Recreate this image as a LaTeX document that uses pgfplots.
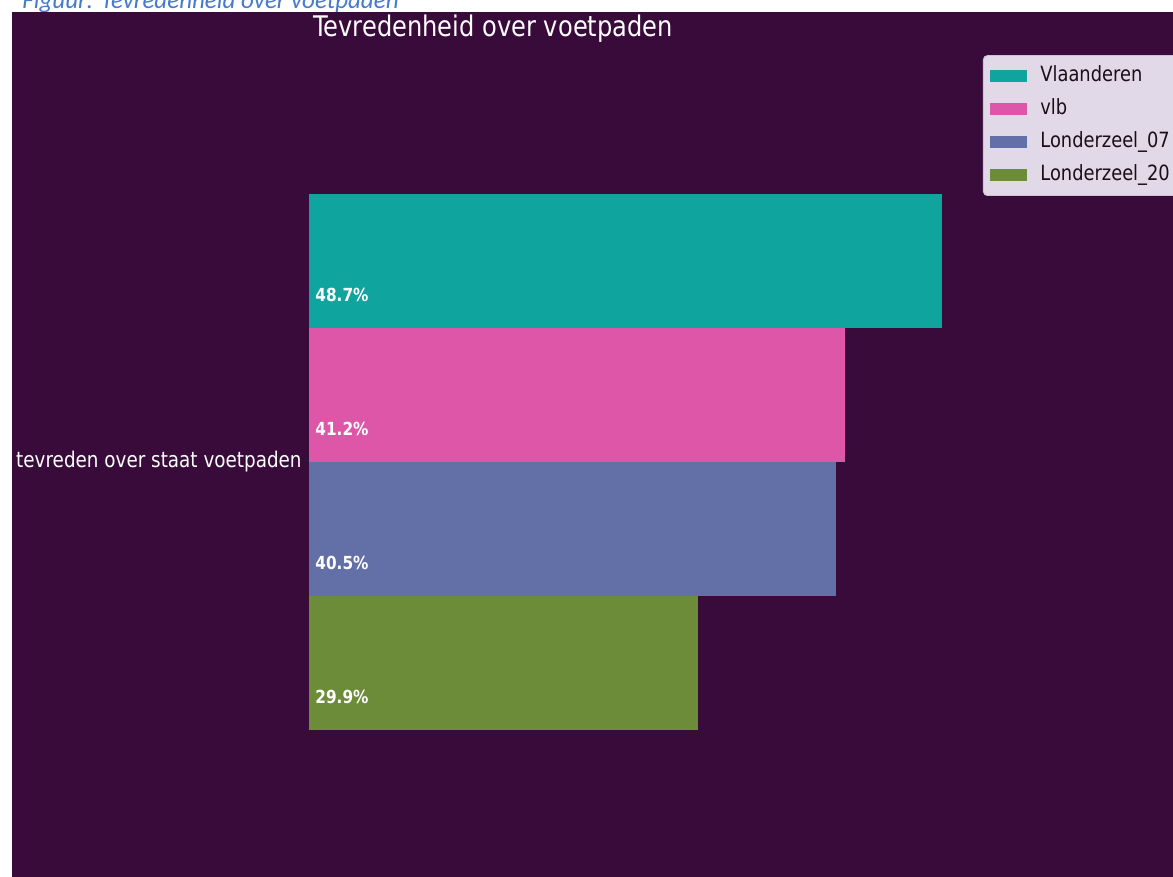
\documentclass[border=0pt]{standalone}
\usepackage{pgfplots}
\pgfplotsset{compat=1.18}
\usepackage{fontspec}
\setmainfont{DejaVu Sans}[FakeStretch=0.85]
\newfontfamily\capfont{Carlito}

\definecolor{bgpurple}{RGB}{56,11,58}
\definecolor{cteal}{RGB}{16,164,158}
\definecolor{cpink}{RGB}{222,86,168}
\definecolor{cslate}{RGB}{99,112,168}
\definecolor{cgreen}{RGB}{108,140,58}
\definecolor{legbg}{RGB}{226,217,232}
\definecolor{legedge}{RGB}{205,195,210}
\definecolor{legtext}{RGB}{25,15,25}
\definecolor{capblue}{RGB}{70,122,205}

\begin{document}
\begin{tikzpicture}
  % page = 1173 x 877 px, 1 px = 0.5pt
  \useasboundingbox (0,0) rectangle (586.5pt,438.5pt);
  \clip (0,0) rectangle (586.5pt,438.5pt);
  \fill[white] (0,0) rectangle (586.5pt,438.5pt);

  % caption of the document, mostly cut off
  \begin{scope}
    \clip (0,432.5pt) rectangle (586.5pt,438.5pt);
    \node[anchor=base west, inner sep=0pt, text=capblue,
          font=\capfont\itshape\fontsize{12.5}{14}\selectfont]
      at (11pt,434pt) {Figuur: Tevredenheid over voetpaden};
  \end{scope}

  \fill[bgpurple] (6pt,0) rectangle (586.5pt,432.5pt);

  \node[anchor=base, text=white, inner sep=0pt,
        font=\fontsize{14.2}{16}\selectfont]
    at (246.5pt,420pt) {Tevredenheid over voetpaden};

  \begin{axis}[
    at={(154.5pt,60.1pt)}, anchor=south west,
    scale only axis,
    width=332.5pt, height=294.8pt,
    xbar, bar width=0.2, bar shift=0pt,
    xmin=0, xmax=51.15,
    ymin=-0.44, ymax=0.44,
    enlargelimits=false,
    axis line style={draw=none},
    tick style={draw=none},
    major tick length=0pt,
    xtick=\empty,
    ytick={0},
    yticklabels={tevreden over staat voetpaden},
    yticklabel style={text=white, inner sep=0pt, xshift=-3.5pt,
                      font=\fontsize{10.8}{12}\selectfont},
    legend style={at={(axis description cs:1.0135,1.19)}, anchor=north west,
                  fill=legbg, draw=legedge, rounded corners=2pt,
                  inner xsep=3.5pt, inner ysep=5.5pt,
                  row sep=7pt, column sep=6.5pt,
                  font=\fontsize{10.5}{12}\selectfont, text=legtext,
                  nodes={inner sep=0pt, text height=7.5pt, text depth=2pt}},
    legend cell align=left,
    legend image code/.code={\path[#1, sharp corners] (0pt,-3pt) rectangle (18.5pt,3pt);},
  ]
    \addplot[draw=none, fill=cteal]  coordinates {(48.7,0.3)};
    \addplot[draw=none, fill=cpink]  coordinates {(41.2,0.1)};
    \addplot[draw=none, fill=cslate] coordinates {(40.5,-0.1)};
    \addplot[draw=none, fill=cgreen] coordinates {(29.9,-0.3)};
    \legend{Vlaanderen, vlb, Londerzeel\_07, Londerzeel\_20}

    \node[anchor=west, inner sep=0pt, text=white,
          font=\bfseries\fontsize{9}{10}\selectfont]
      at (axis cs:0,0.25) [xshift=3pt] {48.7\%};
    \node[anchor=west, inner sep=0pt, text=white,
          font=\bfseries\fontsize{9}{10}\selectfont]
      at (axis cs:0,0.05) [xshift=3pt] {41.2\%};
    \node[anchor=west, inner sep=0pt, text=white,
          font=\bfseries\fontsize{9}{10}\selectfont]
      at (axis cs:0,-0.15) [xshift=3pt] {40.5\%};
    \node[anchor=west, inner sep=0pt, text=white,
          font=\bfseries\fontsize{9}{10}\selectfont]
      at (axis cs:0,-0.35) [xshift=3pt] {29.9\%};
  \end{axis}
\end{tikzpicture}
\end{document}
